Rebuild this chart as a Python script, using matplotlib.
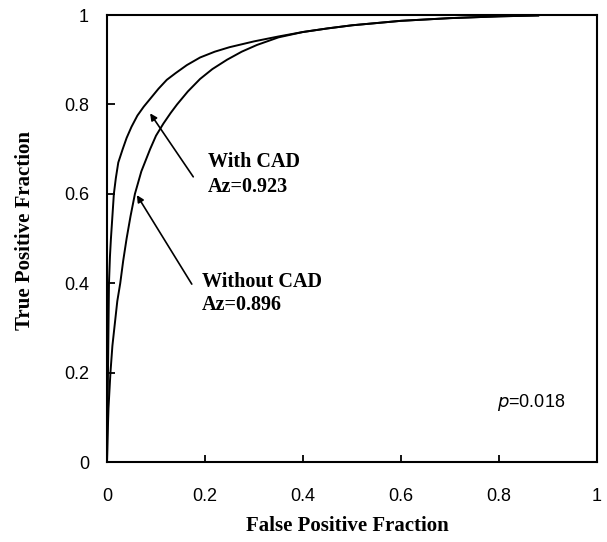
import matplotlib
matplotlib.use('Agg')
import matplotlib.pyplot as plt

# ROC curves
fpf_with = [0.0, 0.001, 0.002, 0.003, 0.004, 0.006, 0.008, 0.011, 0.014, 0.018,
            0.023, 0.032, 0.04, 0.05, 0.062, 0.075, 0.09, 0.105, 0.122, 0.14,
            0.163, 0.19, 0.22, 0.25, 0.3, 0.35, 0.4, 0.45, 0.5, 0.6, 0.7, 0.8, 0.88]
tpr_with = [0.0, 0.1, 0.2, 0.3, 0.4, 0.46, 0.5, 0.55, 0.6, 0.635,
            0.67, 0.7, 0.725, 0.75, 0.775, 0.795, 0.815, 0.835, 0.855, 0.87,
            0.888, 0.905, 0.918, 0.928, 0.941, 0.952, 0.962, 0.97, 0.977, 0.987, 0.993, 0.997, 0.999]

fpf_without = [0.0, 0.001, 0.003, 0.007, 0.011, 0.016, 0.021, 0.027, 0.033, 0.04,
               0.048, 0.057, 0.07, 0.088, 0.1, 0.115, 0.13, 0.143, 0.165, 0.19,
               0.215, 0.245, 0.275, 0.306, 0.35, 0.4, 0.45, 0.5, 0.6, 0.7, 0.8, 0.88]
tpr_without = [0.0, 0.05, 0.12, 0.2, 0.26, 0.31, 0.36, 0.4, 0.45, 0.5,
               0.55, 0.6, 0.65, 0.7, 0.73, 0.757, 0.781, 0.8, 0.829, 0.857,
               0.879, 0.9, 0.918, 0.933, 0.95, 0.962, 0.97, 0.977, 0.987, 0.993, 0.997, 0.999]

ticks = [0, 0.2, 0.4, 0.6, 0.8, 1]
tick_labels = ['0', '0.2', '0.4', '0.6', '0.8', '1']

serif = ['Liberation Serif', 'DejaVu Serif']
sans = ['Liberation Sans', 'DejaVu Sans']

fig = plt.figure(figsize=(6.07, 5.42), dpi=100)
ax = fig.add_axes([0.1763, 0.1476, 0.8072, 0.8247])

ax.plot(fpf_with, tpr_with, color='black', lw=1.4)
ax.plot(fpf_without, tpr_without, color='black', lw=1.4)

ax.set_xlim(0, 1)
ax.set_ylim(0, 1)
ax.set_xticks(ticks)
ax.set_yticks(ticks)
ax.set_xticklabels(tick_labels, family=sans, fontsize=13)
ax.set_yticklabels(tick_labels, family=sans, fontsize=13)
ax.tick_params(axis='x', direction='in', length=5, width=1.3, pad=19)
ax.tick_params(axis='y', direction='in', length=5.5, width=1.3, pad=13)
for sp in ax.spines.values():
    sp.set_linewidth(1.5)

# Annotations with arrows
arrow = dict(arrowstyle='-|>', color='black', lw=1.2, mutation_scale=10,
             shrinkA=0, shrinkB=0)
ax.annotate('', xy=(0.088, 0.78), xytext=(0.176, 0.638), arrowprops=arrow)
ax.annotate('', xy=(0.061, 0.597), xytext=(0.173, 0.398), arrowprops=arrow)

lbl = dict(family=serif, fontweight='bold', fontsize=14.5, ha='left', va='center')
ax.text(0.206, 0.671, 'With CAD', **lbl)
ax.text(0.206, 0.615, 'Az=0.923', **lbl)
ax.text(0.194, 0.403, 'Without CAD', **lbl)
ax.text(0.194, 0.351, 'Az=0.896', **lbl)

ax.text(0.796, 0.134, r'$\mathit{p}$=0.018', family=sans, fontsize=13,
        ha='left', va='center')

# Axis titles
fig.text(25 / 607, 1 - 231 / 542, 'True Positive Fraction', rotation=90,
         family=serif, fontweight='bold', fontsize=15, ha='center', va='center')
fig.text(347 / 607, 1 - 526 / 542, 'False Positive Fraction',
         family=serif, fontweight='bold', fontsize=15, ha='center', va='center')

fig.savefig('out.png', dpi=100)
